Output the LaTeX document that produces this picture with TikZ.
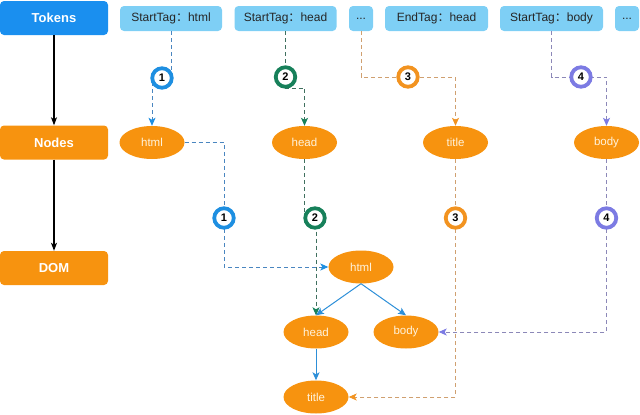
\documentclass[tikz,border=0pt]{standalone}
\usepackage{fontspec}
\setmainfont{Liberation Sans}
\newfontfamily\cjk{Noto Sans CJK SC}
\usetikzlibrary{arrows.meta,shapes.geometric}
\definecolor{tokblue}{HTML}{1A8FEF}
\definecolor{lightblue}{HTML}{7ECFF5}
\definecolor{orng}{HTML}{F7930F}
\definecolor{cA}{HTML}{1E8FE1}
\definecolor{cB}{HTML}{17805A}
\definecolor{cC}{HTML}{F29320}
\definecolor{cD}{HTML}{7C7BE3}
\definecolor{lA}{HTML}{4A86C0}
\definecolor{lB}{HTML}{40705F}
\definecolor{lC}{HTML}{D0A070}
\definecolor{lD}{HTML}{8C88B8}
\definecolor{etext}{HTML}{FFF3DC}
\definecolor{treeblue}{HTML}{2D8FD8}
\tikzset{
  stagebox/.style={rectangle, rounded corners=4pt, minimum width=108pt, minimum height=34pt, text=white, font=\fontsize{13}{15}\selectfont\bfseries, inner sep=0pt},
  tokbox/.style={rectangle, rounded corners=4pt, fill=lightblue, minimum height=25pt, inner sep=0pt, text=black!85, font=\fontsize{12}{14}\selectfont},
  elnode/.style={ellipse, fill=orng, minimum width=65pt, minimum height=33pt, inner sep=0pt, text=etext, font=\fontsize{11.5}{13}\selectfont},
  numcirc/.style={circle, fill=white, line width=3.8pt, minimum size=19.5pt, inner sep=0pt, font=\fontsize{11}{13}\selectfont\bfseries},
  dline/.style={line width=0.9pt, dash pattern=on 4pt off 3pt},
}
\begin{document}
\begin{tikzpicture}[x=1pt,y=-1pt]
\useasboundingbox (0,0) rectangle (640,415);
% stage boxes
\node[stagebox, fill=tokblue] (tokens) at (54,18) {Tokens};
\node[stagebox, fill=orng] (nodes) at (54,142.5) {Nodes};
\node[stagebox, fill=orng] (dom) at (54,268) {DOM};
\draw[line width=1.2pt, -{Stealth[length=8pt,width=6pt,inset=2pt]}] (tokens) -- (nodes);
\draw[line width=1.2pt, -{Stealth[length=8pt,width=6pt,inset=2pt]}] (nodes) -- (dom);
% token boxes
\node[tokbox, minimum width=102pt] (t1) at (171,18.5) {StartTag{\cjk ：}html};
\node[tokbox, minimum width=102pt] (t2) at (285.5,18.5) {StartTag{\cjk ：}head};
\node[tokbox, minimum width=24pt] (t3) at (361,18.5) {...};
\node[tokbox, minimum width=103pt] (t4) at (436.5,18.5) {EndTag{\cjk ：}head};
\node[tokbox, minimum width=103pt] (t5) at (551.5,18.5) {StartTag{\cjk ：}body};
\node[tokbox, minimum width=24pt] (t6) at (627,18.5) {...};
% node ellipses
\node[elnode] (n1) at (152,142.5) {html};
\node[elnode] (n2) at (304.5,142.5) {head};
\node[elnode] (n3) at (455.5,142.5) {title};
\node[elnode] (n4) at (606.5,142.5) {body};
% DOM ellipses
\node[elnode] (d1) at (361,267) {html};
\node[elnode] (d2) at (316,332) {head};
\node[elnode] (d3) at (406,332) {body};
\node[elnode] (d4) at (316,397) {title};
% tree edges
\draw[treeblue, line width=1pt, -{Stealth[length=8pt,width=7pt,inset=2pt]}] (d1.south) -- (d2.north);
\draw[treeblue, line width=1pt, -{Stealth[length=8pt,width=7pt,inset=2pt]}] (d1.south) -- (d3.north);
\draw[treeblue, line width=1pt, -{Stealth[length=8pt,width=7pt,inset=2pt]}] (d2.south) -- (d4.north);
% coordinates for bends
\coordinate (a1) at (171,78); \coordinate (a2) at (152,78);
\coordinate (b1) at (285.5,88); \coordinate (b2) at (304.5,88);
\coordinate (g1) at (361,77); \coordinate (g2) at (455.5,77);
\coordinate (h1) at (551.5,77); \coordinate (h2) at (606.5,77);
\coordinate (p1) at (224,142.5); \coordinate (p2) at (224,267);
\coordinate (q1) at (304.5,218); \coordinate (q2) at (316,218);
\coordinate (r1) at (455.5,397);
\coordinate (s1) at (606.5,332);
% dashed connectors, row 1
\draw[dline, lA, -{Stealth[length=8pt,width=7pt,inset=2pt,cA]}] (t1.south) -- (a1) -- (a2) -- (n1.north);
\draw[dline, lB, -{Stealth[length=8pt,width=7pt,inset=2pt,cB]}] (t2.south) -- (b1) -- (b2) -- (n2.north);
\draw[dline, lC, -{Stealth[length=8pt,width=7pt,inset=2pt,cC]}] (t3.south) -- (g1) -- (g2) -- (n3.north);
\draw[dline, lD, -{Stealth[length=8pt,width=7pt,inset=2pt,cD]}] (t5.south) -- (h1) -- (h2) -- (n4.north);
% dashed connectors, row 2
\draw[dline, lA, -{Stealth[length=8pt,width=7pt,inset=2pt,cA]}] (n1.east) -- (p1) -- (p2) -- (d1.west);
\draw[dline, lB, -{Stealth[length=8pt,width=7pt,inset=2pt,cB]}] (n2.south) -- (q1) -- (q2) -- (d2.north);
\draw[dline, lC, -{Stealth[length=8pt,width=7pt,inset=2pt,cC]}] (n3.south) -- (r1) -- (d4.east);
\draw[dline, lD, -{Stealth[length=8pt,width=7pt,inset=2pt,cD]}] (n4.south) -- (s1) -- (d3.east);
% number circles
\node[numcirc, draw=cA] (c1) at (162,78) {1};
\node[numcirc, draw=cB] (c2) at (285.5,77) {2};
\node[numcirc, draw=cC] (c3) at (408,77) {3};
\node[numcirc, draw=cD] (c4) at (581,77) {4};
\node[numcirc, draw=cA] (e1) at (224,218) {1};
\node[numcirc, draw=cB] (e2) at (315,218) {2};
\node[numcirc, draw=cC] (e3) at (455.5,218) {3};
\node[numcirc, draw=cD] (e4) at (606.5,218) {4};
\end{tikzpicture}
\end{document}
